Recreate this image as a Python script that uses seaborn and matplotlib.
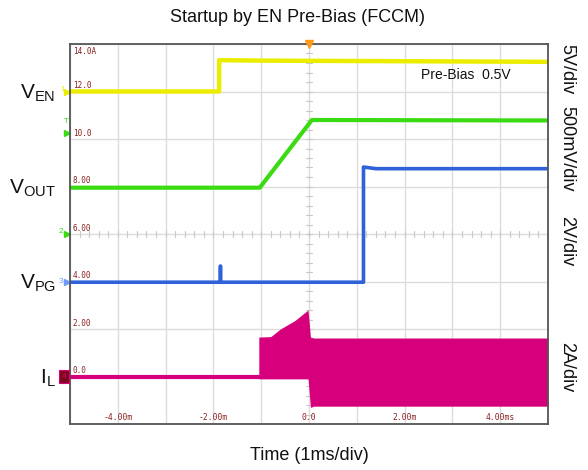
import pandas as pd
import seaborn as sns
import matplotlib.pyplot as plt

# scope traces, time in ms, level in screen units (2 units = 1 div)
ven_t = [-5.0, -1.88, -1.88, -1.0, 5.0]
ven_v = [12.0, 12.0, 13.32, 13.3, 13.25]

vout_t = [-5.0, -1.03, 0.06, 5.0]
vout_v = [7.95, 7.95, 10.8, 10.78]

vpg_t = [-5.0, -1.855, -1.855, -1.85, -1.85, 1.14, 1.14, 1.4, 5.0]
vpg_v = [3.97, 3.97, 4.65, 4.65, 3.97, 3.97, 8.82, 8.75, 8.75]

il_line_t = [-5.0, -1.05]
il_line_v = [0.0, 0.0]
# switching envelope of the inductor current
il_t = [-1.05, -0.8, -0.6, -0.3, -0.02, 0.03, 0.1, 5.0]
il_hi = [1.66, 1.68, 2.0, 2.35, 2.8, 1.66, 1.62, 1.62]
il_lo = [-0.1, -0.1, -0.1, -0.1, -0.1, -1.3, -1.25, -1.25]

ytick_vals = [14, 12, 10, 8, 6, 4, 2, 0]
ytick_txt = ["14.0A", "12.0", "10.0", "8.00", "6.00", "4.00", "2.00", "0.0"]
xtick_vals = [-4, -2, 0, 2, 4]
xtick_txt = ["-4.00m", "-2.00m", "0.0", "2.00m", "4.00ms"]

trace_names = [r"V$_{\mathregular{EN}}$", r"V$_{\mathregular{OUT}}$",
               r"V$_{\mathregular{PG}}$", r"I$_{\mathregular{L}}$"]
trace_levels = [12, 8, 4, 0]
scale_txt = ["5V/div", "500mV/div", "2V/div", "2A/div"]

YEL, GRN, BLU, MAG = "#ECEC00", "#3ADB12", "#2F62D8", "#D6007C"
DRED = "#8B2020"

sns.set_style("white")
plt.rcParams["font.family"] = ["Liberation Sans", "DejaVu Sans"]
plt.rcParams["mathtext.fontset"] = "custom"
plt.rcParams["mathtext.rm"] = "Liberation Sans"

fig = plt.figure(figsize=(5.88, 4.70), dpi=100)
ax = fig.add_axes([70 / 588, 46 / 470, 478 / 588, 380 / 470])

# graticule
for x in range(-5, 6):
    ax.axvline(x, color="#DCDCDC", lw=1, zorder=0)
for y in range(-2, 15, 2):
    ax.axhline(y, color="#DCDCDC", lw=1, zorder=0)
for k in range(-25, 26):
    x = k * 0.2
    ax.plot([x, x], [5.88, 6.12], color="#C8C8C8", lw=0.8, zorder=0)
for k in range(-20, 21):
    y = 6 + k * 0.4
    ax.plot([-0.06, 0.06], [y, y], color="#C8C8C8", lw=0.8, zorder=0)

ax.fill_between(il_t, il_lo, il_hi, color=MAG, lw=0, zorder=2)
sns.lineplot(x=il_line_t, y=il_line_v, color=MAG, lw=3, estimator=None, sort=False, ax=ax)
sns.lineplot(x=vpg_t, y=vpg_v, color=BLU, lw=2.6, estimator=None, sort=False, ax=ax)
sns.lineplot(x=vout_t, y=vout_v, color=GRN, lw=3, estimator=None, sort=False, ax=ax)
sns.lineplot(x=ven_t, y=ven_v, color=YEL, lw=3.2, estimator=None, sort=False, ax=ax)

ax.set_xlim(-5, 5)
ax.set_ylim(-2, 14)
ax.set_xticks([])
ax.set_yticks([])
ax.set_xlabel("")
ax.set_ylabel("")
for s in ax.spines.values():
    s.set_color("#555555")
    s.set_linewidth(1.3)

# on-screen scale readouts
for v, t in zip(ytick_vals, ytick_txt):
    ax.annotate(t, (-5, v), xytext=(2, -2 if v == 14 else 1), textcoords="offset points",
                va="top" if v == 14 else "bottom", ha="left", color=DRED,
                fontsize=5.5, family="DejaVu Sans Mono")
for v, t in zip(xtick_vals, xtick_txt):
    ax.annotate(t, (v, -2), xytext=(0, 1.5), textcoords="offset points",
                va="bottom", ha="center", color=DRED,
                fontsize=5.8, family="DejaVu Sans Mono")

ax.plot([0], [14], marker="v", color="#FF9A1A", ms=6, clip_on=False, zorder=5)

ytr = ax.get_yaxis_transform()
for lvl, name in zip(trace_levels, trace_names):
    ax.text(-0.03, lvl - 0.3, name, transform=ytr, ha="right", va="baseline",
            fontsize=15, color="#111111")

# channel markers
ax.plot([-0.006], [12], marker=">", color=YEL, ms=4, transform=ytr, clip_on=False)
ax.text(-0.016, 12.1, "1", transform=ytr, color=YEL, fontsize=6, ha="center", va="center")
ax.plot([-0.006], [10.25], marker=">", color=GRN, ms=4, transform=ytr, clip_on=False)
ax.text(-0.008, 10.75, "T", transform=ytr, color=GRN, fontsize=6, ha="center", va="center")
ax.plot([-0.006], [6], marker=">", color=GRN, ms=4, transform=ytr, clip_on=False)
ax.text(-0.018, 6.1, "2", transform=ytr, color=GRN, fontsize=6, ha="center", va="center")
ax.plot([-0.006], [4], marker=">", color="#6F9BFF", ms=4, transform=ytr, clip_on=False)
ax.text(-0.018, 4.0, "3", transform=ytr, color="#6F9BFF", fontsize=6, ha="center", va="center")
ax.text(-0.013, 0, "4", transform=ytr, color=MAG, fontsize=6, ha="center", va="center",
        bbox=dict(boxstyle="square,pad=0.35", fc="#7A0A1A", ec=MAG, lw=0.8))

for y, t in zip([12.95, 9.58, 5.71, 0.4], scale_txt):
    ax.text(1.04, y, t, transform=ytr, rotation=270, ha="center", va="center",
            fontsize=13, color="#111111")

ax.text(2.35, 12.7, "Pre-Bias  0.5V", fontsize=10, color="#111111", ha="left", va="center")

fig.text(298 / 588, 1 - 18 / 470, "Startup by EN Pre-Bias (FCCM)", ha="center", va="center",
         fontsize=13, color="#111111")
fig.text(309 / 588, 1 - 455 / 470, "Time (1ms/div)", ha="center", va="center",
         fontsize=13, color="#111111")

fig.savefig("out.png", dpi=100)
